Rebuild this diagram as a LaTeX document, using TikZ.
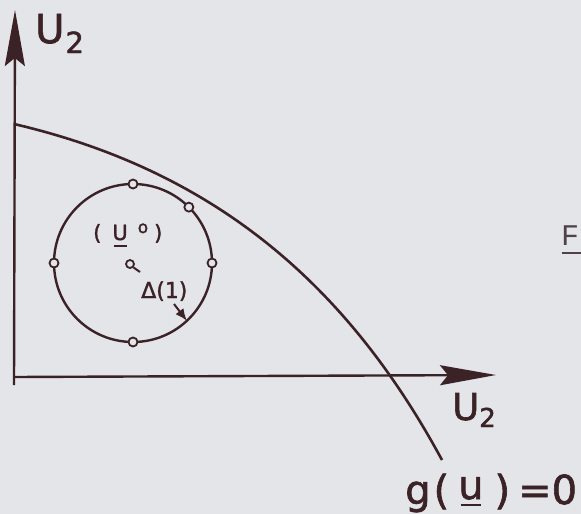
\documentclass[tikz,border=0pt]{standalone}
\usepackage{fontspec}
\newfontfamily\lab[FakeBold=1.6]{DejaVu Sans}
\newfontfamily\typew{Liberation Mono}
\usetikzlibrary{arrows.meta,calc}
\definecolor{ink}{RGB}{58,34,38}
\definecolor{paper}{RGB}{228,229,233}
\definecolor{printgray}{RGB}{80,66,70}
\begin{document}
\begin{tikzpicture}[x=1pt,y=-1pt,
  axisline/.style={draw=ink, line width=2.4pt, -{Stealth[length=56pt,width=20pt,inset=8pt]}},
  thinline/.style={draw=ink, line width=2.4pt},
  pin/.style={circle, draw=ink, fill=paper, line width=1.8pt, minimum size=9pt, inner sep=0pt},
  lbl/.style={text=ink, inner sep=0pt, anchor=base west}]
\fill[paper] (0,0) rectangle (581,514);
\useasboundingbox (0,0) rectangle (581,514);
\clip (0,0) rectangle (581,514);

% axes
\coordinate (Ybot) at (14,385);
\coordinate (O) at (14,377);
\coordinate (Ytip) at (15,10);
\coordinate (Xtip) at (496,375);
\draw[axisline] (Ybot) -- (Ytip);
\draw[axisline] (O) -- (Xtip);

% limit state curve g(u)=0
\coordinate (g0) at (14,124);
\coordinate (g1) at (442,460);
\draw[thinline, line width=2.6pt] (g0) .. controls (220,172) and (350,290) .. (g1);

% circle of radius Delta(1)  (y axis points down: angles are mirrored)
\coordinate (C) at (133,263);
\draw[thinline] (C) circle[radius=79];
\node[pin] (p1) at ($(C)+(-90:79)$) {};
\node[pin] (p2) at ($(C)+(-45:79)$) {};
\node[pin] (p3) at ($(C)+(180:79)$) {};
\node[pin] (p4) at ($(C)+(0:79)$) {};
\node[pin] (p5) at ($(C)+(90:79)$) {};
% centre point u0
\node[pin, minimum size=8pt] (u0) at (130,264) {};
\coordinate (tailend) at (140,272);
\draw[thinline, line width=2pt] (u0.south east) -- (tailend);
\coordinate (arrstart) at (174,304);
\coordinate (arrend) at ($(C)+(47:79)$);
\draw[draw=ink, line width=2pt, -{Latex[length=12pt,width=10pt]}] (arrstart) -- (arrend);

% labels
\node[lbl, font=\lab\fontsize{40}{40}\selectfont] (ylab) at (35,43)
  {U\hspace{1pt}\raisebox{-10pt}{\fontsize{29}{29}\selectfont 2}};
\node[lbl, font=\lab\fontsize{37}{37}\selectfont] (xlab) at (452,420)
  {U\raisebox{-7pt}{\fontsize{26}{26}\selectfont 2}};
\node[lbl, font=\lab\fontsize{40}{40}\selectfont] (glab) at (405,504)
  {g\hspace{3pt}(\hspace{9pt}\makebox[0pt][l]{\hspace{3pt}\rule[-2pt]{20pt}{2.5pt}}\raisebox{5pt}{u}\hspace{11pt})\hspace{8pt}=0};
\node[lbl, font=\lab\fontsize{21}{21}\selectfont] (u0lab) at (93,240)
  {(\hspace{11pt}\makebox[0pt][l]{\hspace{2pt}\rule[-7pt]{13pt}{2pt}}U\hspace{10pt}\raisebox{7pt}{\fontsize{17}{17}\selectfont o}\hspace{6pt})};
\node[lbl, font=\lab\fontsize{22}{22}\selectfont] (dlab) at (141,298) {Δ(1)};

% printed letter of the neighbouring column
\node[lbl, font=\typew\fontsize{30}{30}\selectfont, text=printgray] (fig) at (561,245)
  {\makebox[0pt][l]{\hspace{1pt}\rule[-9pt]{30pt}{2pt}}F};
\end{tikzpicture}
\end{document}
